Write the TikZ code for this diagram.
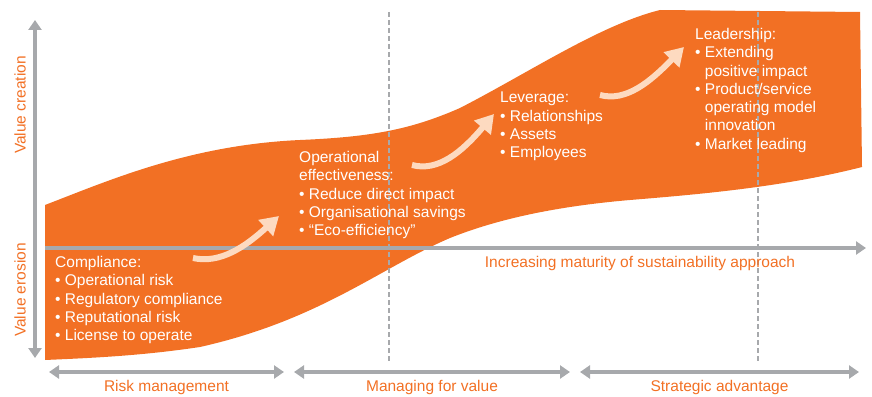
\documentclass[tikz,border=0pt]{standalone}
\usepackage{fontspec}
\setmainfont{Liberation Sans}
\usetikzlibrary{positioning,arrows.meta}
\definecolor{bandorange}{RGB}{242,112,36}
\definecolor{axisgray}{RGB}{167,169,172}
\definecolor{swooshpeach}{RGB}{253,218,192}
\newcommand{\itm}{\textbullet\ }
\newcommand{\hang}{\phantom{\textbullet\ }}

\begin{document}
\begin{tikzpicture}[
    x=1pt,y=-1pt,
    axis/.style={draw=axisgray,line width=4pt,>={Triangle[length=10pt,width=13pt]}},
    divider/.style={draw=axisgray,line width=1.6pt,dash pattern=on 5pt off 3pt},
    stage/.style={text=white,align=left,anchor=north west,inner sep=0pt,
                  font=\fontsize{15.5}{18.3}\selectfont},
    axislabel/.style={text=bandorange,inner sep=0pt,font=\fontsize{15.5}{17}\selectfont},
    swoosh/.style={draw=swooshpeach,line width=6pt,-{Triangle[length=18pt,width=21pt]}}
]
\useasboundingbox (0,0) rectangle (872,396);

% the band
\fill[bandorange] (45,205) .. controls (110,180) and (190,145) .. (300,140)
    .. controls (370,137) and (410,130) .. (460,108)
    .. controls (530,72) and (600,25) .. (660,10) -- (860,12) -- (862,167)
    .. controls (780,188) and (690,195) .. (630,200)
    .. controls (560,206) and (500,218) .. (450,238)
    .. controls (380,268) and (320,320) .. (200,347)
    .. controls (140,356) and (90,358) .. (45,360) -- cycle;

% axes
\coordinate (ytop) at (35,20);
\coordinate (ybot) at (35,358);
\coordinate (xstart) at (45,248);
\coordinate (xend) at (866,248);
\draw[axis,<->] (ybot) -- (ytop);
\draw[axis,->] (xstart) -- (xend);

% dividers
\coordinate (d1top) at (389,12);
\coordinate (d1bot) at (389,361);
\coordinate (d2top) at (758,12);
\coordinate (d2bot) at (758,361);
\draw[divider] (d1top) -- (d1bot);
\draw[divider] (d2top) -- (d2bot);

% phases
\coordinate (risk-l) at (49,372);
\coordinate (risk-r) at (284,372);
\coordinate (value-l) at (294,372);
\coordinate (value-r) at (570,372);
\coordinate (strat-l) at (580,372);
\coordinate (strat-r) at (859,372);
\draw[axis,<->] (risk-l) -- (risk-r) coordinate[midway] (riskmid);
\draw[axis,<->] (value-l) -- (value-r) coordinate[midway] (valuemid);
\draw[axis,<->] (strat-l) -- (strat-r) coordinate[midway] (stratmid);
\node[axislabel,below=8pt of riskmid] (risklbl) {Risk management};
\node[axislabel,below=8pt of valuemid] (valuelbl) {Managing for value};
\node[axislabel,below=8pt of stratmid] (stratlbl) {Strategic advantage};

\node[axislabel] (maturity) at (640,263) {Increasing maturity of sustainability approach};
\node[axislabel,rotate=90] (creation) at (20,105) {Value creation};
\node[axislabel,rotate=90] (erosion) at (20,290) {Value erosion};

% stages
\node[stage] (compliance) at (55,256) {Compliance:\\
  \itm Operational risk\\
  \itm Regulatory compliance\\
  \itm Reputational risk\\
  \itm License to operate};
\node[stage] (operational) at (299,151) {Operational\\
  effectiveness:\\
  \itm Reduce direct impact\\
  \itm Organisational savings\\
  \itm “Eco-efficiency”};
\node[stage] (leverage) at (500,92) {Leverage:\\
  \itm Relationships\\
  \itm Assets\\
  \itm Employees};
\node[stage] (leadership) at (695,28) {Leadership:\\
  \itm Extending\\
  \hang positive impact\\
  \itm Product/service\\
  \hang operating model\\
  \hang innovation\\
  \itm Market leading};

% swooshes
\coordinate (s1a) at (193,258);
\coordinate (s1b) at (279,216);
\coordinate (s2a) at (412,165);
\coordinate (s2b) at (494,114);
\coordinate (s3a) at (600,95);
\coordinate (s3b) at (684,47);
\draw[swoosh] (s1a) .. controls (220,264) and (245,247) .. (s1b);
\draw[swoosh] (s2a) .. controls (438,172) and (462,152) .. (s2b);
\draw[swoosh] (s3a) .. controls (626,102) and (650,82) .. (s3b);
\end{tikzpicture}
\end{document}
